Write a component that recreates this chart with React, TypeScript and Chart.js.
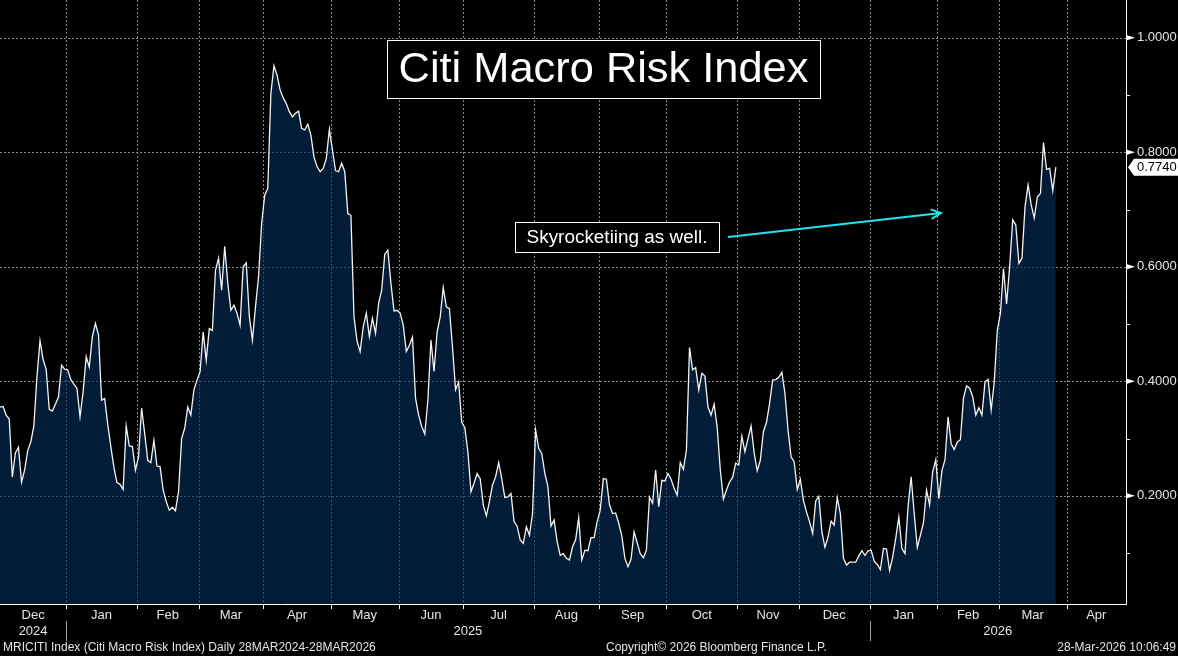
import React, { useEffect, useRef } from "react";
import { Chart, registerables } from "chart.js";

Chart.register(...registerables);

// ---- data: one value per business day, month by month ----
const START_DATE = "2024-12-02";
const END_DATE = "2026-05-29";

const dec2024 = [0.355, 0.356, 0.341, 0.334, 0.233, 0.275, 0.285, 0.224, 0.245, 0.279, 0.294, 0.322, 0.408, 0.471, 0.438, 0.421, 0.351, 0.348, 0.36, 0.373, 0.428, 0.421];
const jan2025 = [0.42, 0.403, 0.395, 0.388, 0.338, 0.382, 0.443, 0.425, 0.478, 0.501, 0.481, 0.367, 0.37, 0.325, 0.286, 0.25, 0.223, 0.22, 0.211, 0.322, 0.287, 0.286, 0.245];
const feb2025 = [0.268, 0.353, 0.309, 0.262, 0.258, 0.297, 0.252, 0.251, 0.21, 0.19, 0.175, 0.18, 0.174, 0.207, 0.3, 0.318, 0.355, 0.341, 0.385, 0.402];
const mar2025 = [0.417, 0.486, 0.437, 0.492, 0.489, 0.594, 0.615, 0.559, 0.636, 0.571, 0.524, 0.533, 0.519, 0.498, 0.6, 0.607, 0.513, 0.472, 0.53, 0.583, 0.676];
const apr2025 = [0.725, 0.737, 0.903, 0.951, 0.935, 0.909, 0.895, 0.885, 0.871, 0.862, 0.868, 0.872, 0.842, 0.839, 0.849, 0.83, 0.792, 0.775, 0.766, 0.772, 0.789, 0.84];
const may2025 = [0.804, 0.768, 0.766, 0.781, 0.766, 0.693, 0.69, 0.513, 0.47, 0.452, 0.495, 0.519, 0.478, 0.51, 0.484, 0.536, 0.559, 0.622, 0.629, 0.571, 0.523, 0.524];
const jun2025 = [0.519, 0.498, 0.452, 0.463, 0.477, 0.37, 0.341, 0.321, 0.308, 0.367, 0.472, 0.417, 0.486, 0.512, 0.564, 0.53, 0.527, 0.46, 0.385, 0.399, 0.329];
const jul2025 = [0.319, 0.277, 0.207, 0.222, 0.239, 0.23, 0.184, 0.165, 0.19, 0.219, 0.233, 0.258, 0.23, 0.197, 0.198, 0.204, 0.155, 0.147, 0.123, 0.117, 0.146, 0.131, 0.169];
const aug2025 = [0.315, 0.283, 0.274, 0.239, 0.216, 0.147, 0.158, 0.12, 0.096, 0.099, 0.091, 0.088, 0.111, 0.123, 0.162, 0.088, 0.105, 0.104, 0.127, 0.127, 0.155];
const sep2025 = [0.175, 0.23, 0.229, 0.184, 0.169, 0.17, 0.152, 0.13, 0.091, 0.076, 0.089, 0.137, 0.118, 0.099, 0.092, 0.105, 0.198, 0.187, 0.245, 0.181, 0.227, 0.226];
const oct2025 = [0.239, 0.229, 0.213, 0.201, 0.258, 0.246, 0.28, 0.459, 0.42, 0.424, 0.385, 0.414, 0.409, 0.355, 0.341, 0.36, 0.319, 0.245, 0.194, 0.21, 0.224, 0.232, 0.257];
const nov2025 = [0.254, 0.304, 0.277, 0.3, 0.322, 0.275, 0.244, 0.262, 0.312, 0.328, 0.361, 0.402, 0.403, 0.407, 0.416, 0.379, 0.315, 0.268, 0.259, 0.211];
const dec2025 = [0.229, 0.192, 0.172, 0.155, 0.134, 0.191, 0.199, 0.137, 0.11, 0.128, 0.156, 0.149, 0.197, 0.169, 0.091, 0.079, 0.084, 0.084, 0.084, 0.095, 0.104, 0.096, 0.104];
const jan2026 = [0.105, 0.086, 0.08, 0.071, 0.108, 0.107, 0.07, 0.093, 0.126, 0.163, 0.108, 0.099, 0.181, 0.233, 0.169, 0.11, 0.131, 0.153, 0.21, 0.184, 0.242, 0.263];
const feb2026 = [0.195, 0.244, 0.263, 0.338, 0.291, 0.281, 0.294, 0.298, 0.37, 0.392, 0.388, 0.373, 0.341, 0.354, 0.341, 0.399, 0.403, 0.35, 0.399, 0.489];
const mar2026 = [0.519, 0.597, 0.535, 0.6, 0.682, 0.673, 0.606, 0.615, 0.705, 0.743, 0.708, 0.685, 0.722, 0.728, 0.817, 0.77, 0.772, 0.733, 0.774];

const monthKeys = ["2024-12", "2025-01", "2025-02", "2025-03", "2025-04", "2025-05", "2025-06", "2025-07", "2025-08", "2025-09", "2025-10", "2025-11", "2025-12", "2026-01", "2026-02", "2026-03"];
const monthValues = [dec2024, jan2025, feb2025, mar2025, apr2025, may2025, jun2025, jul2025, aug2025, sep2025, oct2025, nov2025, dec2025, jan2026, feb2026, mar2026];

const monthNames = ["Jan", "Feb", "Mar", "Apr", "May", "Jun", "Jul", "Aug", "Sep", "Oct", "Nov", "Dec"];
const yTicks = [0.2, 0.4, 0.6, 0.8, 1.0];
const yMinorTicks = [0.1, 0.3, 0.5, 0.7, 0.9];
const Y_MIN = 0.011;
const Y_MAX = 1.066;
const X_MAX = 365.8; // axis reaches late April 2026 (in business days)

const titleText = "Citi Macro Risk Index";
const noteText = "Skyrocketiing as well.";
const lastValueText = "0.7740";
const footerLeft = "MRICITI Index (Citi Macro Risk Index) Daily 28MAR2024-28MAR2026";
const footerMid = "Copyright\u00A9 2026 Bloomberg Finance L.P.";
const footerRight = "28-Mar-2026 10:06:49";

const FONT = "'Liberation Sans', Arial, sans-serif";
const TEXT = "#e4e4e4";
const GRID = "#8a8a8a";

function buildWeekdays(start: string, end: string): Date[] {
  const out: Date[] = [];
  const d = new Date(start + "T00:00:00Z");
  const e = new Date(end + "T00:00:00Z");
  while (d <= e) {
    const wd = d.getUTCDay();
    if (wd !== 0 && wd !== 6) out.push(new Date(d));
    d.setUTCDate(d.getUTCDate() + 1);
  }
  return out;
}

function keyOf(d: Date) {
  return d.getUTCFullYear() + "-" + String(d.getUTCMonth() + 1).padStart(2, "0");
}

const days = buildWeekdays(START_DATE, END_DATE);

function buildPoints() {
  const pts: { x: number; y: number }[] = [];
  const counters: Record<string, number> = {};
  days.forEach((d, i) => {
    const k = keyOf(d);
    const mi = monthKeys.indexOf(k);
    if (mi < 0) return;
    const c = counters[k] || 0;
    const arr = monthValues[mi];
    if (c < arr.length) pts.push({ x: i, y: arr[c] });
    counters[k] = c + 1;
  });
  return pts;
}

type Seg = { start: number; end: number; month: number; year: number };
function buildMonthSegments(): Seg[] {
  const segs: Seg[] = [];
  days.forEach((d, i) => {
    const last = segs[segs.length - 1];
    if (last && last.month === d.getUTCMonth() && last.year === d.getUTCFullYear()) {
      last.end = i + 0.5;
    } else {
      segs.push({ start: i - 0.5, end: i + 0.5, month: d.getUTCMonth(), year: d.getUTCFullYear() });
    }
  });
  return segs;
}

function fitFont(ctx: CanvasRenderingContext2D, text: string, width: number, weight = "normal") {
  ctx.font = `${weight} 100px ${FONT}`;
  const w = ctx.measureText(text).width;
  return (100 * width) / w;
}

const bbgPlugin = {
  id: "bbgDecor",
  beforeDatasetsDraw(chart: any) {
    const { ctx, chartArea: a, scales } = chart;
    const x = scales.x;
    const y = scales.y;
    const segs = buildMonthSegments();
    ctx.save();
    ctx.strokeStyle = GRID;
    ctx.lineWidth = 1;
    ctx.setLineDash([2, 2]);
    segs.forEach((s, i) => {
      if (i === 0) return;
      const px = Math.round(x.getPixelForValue(s.start)) + 0.5;
      if (px <= a.left || px >= a.right) return;
      ctx.beginPath();
      ctx.moveTo(px, a.top);
      ctx.lineTo(px, a.bottom);
      ctx.stroke();
    });
    yTicks.forEach((t) => {
      const py = Math.round(y.getPixelForValue(t)) + 0.5;
      ctx.beginPath();
      ctx.moveTo(a.left, py);
      ctx.lineTo(a.right, py);
      ctx.stroke();
    });
    ctx.restore();
  },
  afterDatasetsDraw(chart: any) {
    const { ctx, chartArea: a, scales } = chart;
    const x = scales.x;
    const y = scales.y;
    const segs = buildMonthSegments();
    const W = chart.width;
    ctx.save();

    // axis lines
    ctx.strokeStyle = "#ffffff";
    ctx.lineWidth = 1;
    ctx.beginPath();
    ctx.moveTo(a.left, a.bottom + 0.5);
    ctx.lineTo(a.right + 1, a.bottom + 0.5);
    ctx.moveTo(a.right + 0.5, a.top);
    ctx.lineTo(a.right + 0.5, a.bottom + 1);
    ctx.stroke();

    // x tick marks at month boundaries
    segs.forEach((s, i) => {
      if (i === 0) return;
      const px = Math.round(x.getPixelForValue(s.start)) + 0.5;
      if (px <= a.left || px >= a.right) return;
      ctx.beginPath();
      ctx.moveTo(px, a.bottom);
      ctx.lineTo(px, a.bottom + 5);
      ctx.stroke();
    });

    // y major tick markers and minor ticks
    ctx.fillStyle = "#ffffff";
    yTicks.forEach((t) => {
      const py = y.getPixelForValue(t);
      ctx.beginPath();
      ctx.moveTo(a.right + 1, py - 2.5);
      ctx.lineTo(a.right + 9, py);
      ctx.lineTo(a.right + 1, py + 2.5);
      ctx.closePath();
      ctx.fill();
    });
    yMinorTicks.forEach((t) => {
      const py = Math.round(y.getPixelForValue(t)) + 0.5;
      ctx.beginPath();
      ctx.moveTo(a.right, py);
      ctx.lineTo(a.right + 4, py);
      ctx.stroke();
    });

    // month labels
    ctx.fillStyle = TEXT;
    ctx.font = `13px ${FONT}`;
    ctx.textAlign = "center";
    ctx.textBaseline = "middle";
    const xmin = x.min;
    const xmax = x.max;
    segs.forEach((s) => {
      const st = Math.max(s.start, xmin);
      const en = Math.min(s.end, xmax);
      if (en <= st) return;
      const cx = x.getPixelForValue((st + en) / 2);
      ctx.fillText(monthNames[s.month], cx, a.bottom + 11);
    });

    // year labels and separators
    const years: { year: number; start: number; end: number }[] = [];
    segs.forEach((s) => {
      const ly = years[years.length - 1];
      if (ly && ly.year === s.year) ly.end = s.end;
      else years.push({ year: s.year, start: s.start, end: s.end });
    });
    years.forEach((yr, i) => {
      const st = Math.max(yr.start, xmin);
      const en = Math.min(yr.end, xmax);
      if (en <= st) return;
      const cx = x.getPixelForValue((st + en) / 2);
      ctx.fillStyle = TEXT;
      ctx.fillText(String(yr.year), cx, a.bottom + 27);
      if (i > 0) {
        const px = Math.round(x.getPixelForValue(yr.start)) + 0.5;
        ctx.strokeStyle = "#a0a0a0";
        ctx.beginPath();
        ctx.moveTo(px, a.bottom + 17);
        ctx.lineTo(px, a.bottom + 37);
        ctx.stroke();
      }
    });

    // footer
    ctx.font = `12px ${FONT}`;
    ctx.fillStyle = TEXT;
    ctx.textAlign = "left";
    ctx.fillText(footerLeft, 3, a.bottom + 44);
    ctx.fillText(footerMid, 606, a.bottom + 44);
    ctx.textAlign = "right";
    ctx.fillText(footerRight, W - 2, a.bottom + 44);

    // last value tag
    const lastVal = parseFloat(lastValueText);
    const ly = y.getPixelForValue(lastVal);
    ctx.fillStyle = "#ffffff";
    ctx.beginPath();
    ctx.moveTo(a.right + 2, ly);
    ctx.lineTo(a.right + 8, ly - 8.5);
    ctx.lineTo(W, ly - 8.5);
    ctx.lineTo(W, ly + 8.5);
    ctx.lineTo(a.right + 8, ly + 8.5);
    ctx.closePath();
    ctx.fill();
    ctx.fillStyle = "#000000";
    ctx.font = `13px ${FONT}`;
    ctx.textAlign = "left";
    ctx.textBaseline = "middle";
    ctx.fillText(lastValueText, a.right + 11, ly + 0.5);

    // title box
    const tb = { l: 387, t: 40, w: 433, h: 58 };
    ctx.fillStyle = "#000000";
    ctx.fillRect(tb.l, tb.t, tb.w, tb.h);
    ctx.strokeStyle = "#ffffff";
    ctx.lineWidth = 1;
    ctx.strokeRect(tb.l + 0.5, tb.t + 0.5, tb.w, tb.h);
    const tSize = fitFont(ctx, titleText, 410);
    ctx.font = `${tSize}px ${FONT}`;
    ctx.fillStyle = "#ffffff";
    ctx.textAlign = "center";
    ctx.textBaseline = "middle";
    ctx.fillText(titleText, tb.l + tb.w / 2, tb.t + tb.h / 2 + 1);

    // annotation arrow
    ctx.strokeStyle = "#22e3f2";
    ctx.lineWidth = 2;
    const ax0 = 728, ay0 = 237, ax1 = 941, ay1 = 213;
    ctx.beginPath();
    ctx.moveTo(ax0, ay0);
    ctx.lineTo(ax1, ay1);
    const ang = Math.atan2(ay1 - ay0, ax1 - ax0);
    const hl = 11;
    ctx.moveTo(ax1 - hl * Math.cos(ang - 0.45), ay1 - hl * Math.sin(ang - 0.45));
    ctx.lineTo(ax1, ay1);
    ctx.lineTo(ax1 - hl * Math.cos(ang + 0.45), ay1 - hl * Math.sin(ang + 0.45));
    ctx.stroke();

    // annotation box
    const nb = { l: 515, t: 222, w: 204, h: 30 };
    ctx.fillStyle = "#000000";
    ctx.fillRect(nb.l, nb.t, nb.w, nb.h);
    ctx.strokeStyle = "#ffffff";
    ctx.lineWidth = 1;
    ctx.strokeRect(nb.l + 0.5, nb.t + 0.5, nb.w, nb.h);
    const nSize = fitFont(ctx, noteText, 181);
    ctx.font = `${nSize}px ${FONT}`;
    ctx.fillStyle = "#ffffff";
    ctx.textAlign = "center";
    ctx.fillText(noteText, nb.l + nb.w / 2, nb.t + nb.h / 2 + 1);

    ctx.restore();
  },
};

export default function App() {
  const ref = useRef<HTMLCanvasElement | null>(null);

  useEffect(() => {
    document.body.style.margin = "0";
    document.body.style.background = "#000";
    const canvas = ref.current;
    if (!canvas) return;
    const points = buildPoints();
    const chart = new Chart(canvas, {
      type: "line",
      data: {
        datasets: [
          {
            data: points,
            borderColor: "#f4f4f4",
            borderWidth: 1.3,
            pointRadius: 0,
            tension: 0,
            fill: "start",
            backgroundColor: "rgba(5,46,92,0.62)",
          },
        ],
      },
      options: {
        animation: false,
        responsive: false,
        devicePixelRatio: 1,
        layout: { padding: { left: 0, right: 0, top: 0, bottom: 52 } },
        plugins: { legend: { display: false }, tooltip: { enabled: false } },
        scales: {
          x: { type: "linear", min: 0, max: X_MAX, display: false },
          y: {
            position: "right",
            min: Y_MIN,
            max: Y_MAX,
            grid: { display: false, drawTicks: false },
            border: { display: false },
            afterBuildTicks: (s: any) => {
              s.ticks = yTicks.map((v) => ({ value: v }));
            },
            afterFit: (s: any) => {
              s.width = 52;
              s.paddingTop = 0;
              s.paddingBottom = 0;
            },
            ticks: {
              color: TEXT,
              padding: 11,
              font: { family: FONT, size: 13 },
              callback: (v: any) => Number(v).toFixed(4),
            },
          },
        },
      },
      plugins: [bbgPlugin],
    } as any);
    return () => chart.destroy();
  }, []);

  return (
    <div style={{ width: 1178, height: 656, background: "#000" }}>
      <canvas ref={ref} width={1178} height={656} style={{ display: "block", width: 1178, height: 656 }} />
    </div>
  );
}
